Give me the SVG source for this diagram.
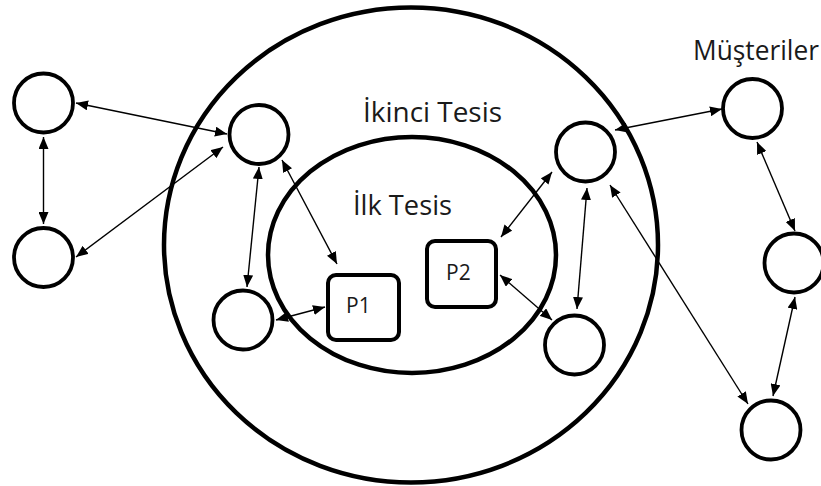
<svg xmlns="http://www.w3.org/2000/svg" width="821" height="486" viewBox="0 0 821 486">
  <style>
    .bound { fill: none; stroke: #000; stroke-width: 4.5; }
    .node { fill: #fff; stroke: #000; stroke-width: 3.8; }
    .box { fill: #fff; stroke: #000; stroke-width: 4; }
    .link { fill: none; stroke: #000; stroke-width: 1.4; marker-start: url(#head); marker-end: url(#head); }
    .label { font-family: "Open Sans", "Liberation Sans", sans-serif; fill: #1a1a1a; }
  </style>
  <defs>
    <marker id="head" viewBox="0 0 12 10" refX="12" refY="5" markerWidth="12" markerHeight="10" markerUnits="userSpaceOnUse" orient="auto-start-reverse">
      <path d="M0,0 L12,5 L0,10 Z" fill="#000"/>
    </marker>
  </defs>

  <rect width="821" height="486" fill="#fff"/>

  <!-- facility boundaries -->
  <g id="ikinci-tesis">
    <ellipse class="bound" cx="411" cy="245" rx="247" ry="237.5"/>
    <text class="label" x="363" y="122" font-size="27" textLength="139" lengthAdjust="spacingAndGlyphs">İkinci Tesis</text>
  </g>
  <g id="ilk-tesis">
    <ellipse class="bound" cx="412" cy="255" rx="144" ry="118"/>
    <text class="label" x="353" y="215" font-size="27" textLength="99" lengthAdjust="spacingAndGlyphs">İlk Tesis</text>
  </g>
  <g id="musteriler-label">
    <text class="label" x="693" y="60" font-size="27" textLength="126" lengthAdjust="spacingAndGlyphs">Müşteriler</text>
  </g>

  <!-- connectors -->
  <g id="connectors">
    <line class="link" x1="76" y1="103" x2="227" y2="134"/>
    <line class="link" x1="76" y1="257" x2="223" y2="147"/>
    <line class="link" x1="43.5" y1="137" x2="43.5" y2="224"/>
    <line class="link" x1="259" y1="167" x2="247" y2="287"/>
    <line class="link" x1="282" y1="160" x2="337" y2="264"/>
    <line class="link" x1="276" y1="320" x2="325" y2="307"/>
    <line class="link" x1="615" y1="130" x2="722" y2="109"/>
    <line class="link" x1="552" y1="172" x2="501" y2="237"/>
    <line class="link" x1="587" y1="188" x2="577" y2="309"/>
    <line class="link" x1="500" y1="275" x2="552" y2="320"/>
    <line class="link" x1="610" y1="185" x2="748" y2="404"/>
    <line class="link" x1="757" y1="142" x2="795" y2="231"/>
    <line class="link" x1="795" y1="297" x2="773" y2="396"/>
  </g>

  <!-- nodes -->
  <g id="n-a"><circle class="node" cx="43.5" cy="103" r="29.5"/></g>
  <g id="n-b"><circle class="node" cx="43.5" cy="257.5" r="29.5"/></g>
  <g id="n-c"><circle class="node" cx="259" cy="134.5" r="29.5"/></g>
  <g id="n-d"><circle class="node" cx="243" cy="320" r="29.5"/></g>
  <g id="n-e"><circle class="node" cx="585.5" cy="152" r="29.5"/></g>
  <g id="n-f"><circle class="node" cx="574.5" cy="345" r="29.5"/></g>
  <g id="n-g"><circle class="node" cx="752.5" cy="108.5" r="29.5"/></g>
  <g id="n-h"><circle class="node" cx="794" cy="263" r="29.5"/></g>
  <g id="n-i"><circle class="node" cx="771" cy="430" r="29.5"/></g>

  <g id="p1">
    <rect class="box" x="328" y="275" width="71" height="65" rx="8"/>
    <text class="label" x="346" y="313" font-size="21">P1</text>
  </g>
  <g id="p2">
    <rect class="box" x="427" y="241" width="69" height="66" rx="8"/>
    <text class="label" x="446" y="280" font-size="21">P2</text>
  </g>
</svg>
